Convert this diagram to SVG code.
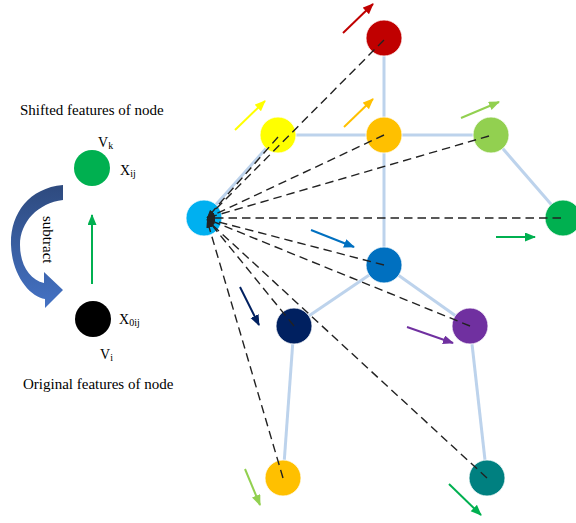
<svg xmlns="http://www.w3.org/2000/svg" width="576" height="523" viewBox="0 0 576 523">
<style>
  .t { font-family: "Liberation Serif", "Times New Roman", serif; fill: #000; }
  .edge { stroke: #BDD3EC; stroke-width: 3; fill: none; }
  .dash { stroke: #222; stroke-width: 1.4; stroke-dasharray: 8.5 5; fill: none; marker-end: url(#hk); }
  .mv { stroke-width: 2; fill: none; }
  .node { stroke: #fff; stroke-width: 0.8; }
</style>
<defs>
  <marker id="hk" markerUnits="userSpaceOnUse" markerWidth="9" markerHeight="7" refX="8" refY="3" orient="auto">
    <path d="M0,0 L8,3 L0,6 Z" fill="#222"/>
  </marker>
  <marker id="aRed" markerUnits="userSpaceOnUse" markerWidth="12" markerHeight="10" refX="10" refY="4.5" orient="auto"><path d="M0,0 L11,4.5 L0,9 Z" fill="#C00000"/></marker>
  <marker id="aYel" markerUnits="userSpaceOnUse" markerWidth="12" markerHeight="10" refX="10" refY="4.5" orient="auto"><path d="M0,0 L11,4.5 L0,9 Z" fill="#FFFF00"/></marker>
  <marker id="aOra" markerUnits="userSpaceOnUse" markerWidth="12" markerHeight="10" refX="10" refY="4.5" orient="auto"><path d="M0,0 L11,4.5 L0,9 Z" fill="#FFC000"/></marker>
  <marker id="aLgr" markerUnits="userSpaceOnUse" markerWidth="12" markerHeight="10" refX="10" refY="4.5" orient="auto"><path d="M0,0 L11,4.5 L0,9 Z" fill="#92D050"/></marker>
  <marker id="aGrn" markerUnits="userSpaceOnUse" markerWidth="12" markerHeight="10" refX="10" refY="4.5" orient="auto"><path d="M0,0 L11,4.5 L0,9 Z" fill="#00B050"/></marker>
  <marker id="aBlu" markerUnits="userSpaceOnUse" markerWidth="12" markerHeight="10" refX="10" refY="4.5" orient="auto"><path d="M0,0 L11,4.5 L0,9 Z" fill="#0070C0"/></marker>
  <marker id="aNav" markerUnits="userSpaceOnUse" markerWidth="12" markerHeight="10" refX="10" refY="4.5" orient="auto"><path d="M0,0 L11,4.5 L0,9 Z" fill="#002060"/></marker>
  <marker id="aPur" markerUnits="userSpaceOnUse" markerWidth="12" markerHeight="10" refX="10" refY="4.5" orient="auto"><path d="M0,0 L11,4.5 L0,9 Z" fill="#7030A0"/></marker>
  <linearGradient id="gSub" x1="0" y1="0" x2="0" y2="1">
    <stop offset="0" stop-color="#2E4A7E"/>
    <stop offset="1" stop-color="#4472C4"/>
  </linearGradient>
</defs>

<!-- left panel -->
<g id="legend">
  <text class="t" x="20" y="115" font-size="15">Shifted features of node</text>
  <text class="t" x="23" y="389" font-size="15">Original features of node</text>
  <path d="M63,185 C28,188 10,215 11,245 C12,275 30,297 45,299 L45,308 L63,290 L44,272 L44,283 C30,280 20,265 20,245 C20,222 38,203 63,200 Z" fill="url(#gSub)"/>
  <text class="t" font-size="15" transform="translate(43,216) rotate(90)">subtract</text>
  <line x1="92" y1="284" x2="92" y2="215" stroke="#00B050" stroke-width="2" marker-end="url(#aGrn)"/>
</g>
<g id="node-vk">
  <circle cx="92" cy="168" r="18" fill="#00B050"/>
  <text class="t" x="98" y="147" font-size="14">V<tspan font-size="10" dy="2">k</tspan></text>
  <text class="t" x="120" y="175" font-size="14">X<tspan font-size="10" dy="2">ij</tspan></text>
</g>
<g id="node-vi">
  <circle cx="93" cy="319" r="18" fill="#000"/>
  <text class="t" x="119" y="324" font-size="14">X<tspan font-size="10" dy="2">0ij</tspan></text>
  <text class="t" x="100" y="359" font-size="14">V<tspan font-size="10" dy="2">i</tspan></text>
</g>

<!-- skeleton edges -->
<g id="edges">
  <line class="edge" x1="384" y1="38" x2="384" y2="135"/>
  <line class="edge" x1="278" y1="135" x2="491" y2="135"/>
  <line class="edge" x1="491" y1="135" x2="563" y2="218"/>
  <line class="edge" x1="278" y1="135" x2="204" y2="218"/>
  <line class="edge" x1="384" y1="135" x2="384" y2="265"/>
  <line class="edge" x1="384" y1="265" x2="294" y2="326"/>
  <line class="edge" x1="384" y1="265" x2="470" y2="326"/>
  <line class="edge" x1="294" y1="326" x2="283" y2="478"/>
  <line class="edge" x1="470" y1="326" x2="487" y2="478"/>
</g>

<g id="n-red"><circle class="node" cx="384" cy="38" r="18" fill="#C00000"/></g>
<g id="n-yellow"><circle class="node" cx="278" cy="135" r="18" fill="#FFFF00"/></g>
<g id="n-orange"><circle class="node" cx="384" cy="135" r="18" fill="#FFC000"/></g>
<g id="n-lightgreen"><circle class="node" cx="491" cy="135" r="18" fill="#92D050"/></g>
<g id="n-green"><circle class="node" cx="563" cy="218" r="18" fill="#00B050"/></g>
<g id="n-cyan"><circle class="node" cx="204" cy="218" r="18" fill="#00B0F0"/></g>
<g id="n-blue"><circle class="node" cx="384" cy="265" r="18" fill="#0070C0"/></g>
<g id="n-navy"><circle class="node" cx="294" cy="326" r="18" fill="#002060"/></g>
<g id="n-purple"><circle class="node" cx="470" cy="326" r="18" fill="#7030A0"/></g>
<g id="n-orange2"><circle class="node" cx="283" cy="478" r="18" fill="#FFC000"/></g>
<g id="n-teal"><circle class="node" cx="487" cy="478" r="18" fill="#008080"/></g>

<!-- dashed connectors to the cyan node -->
<g id="connectors">
  <line class="dash" x1="384" y1="40" x2="207" y2="218"/>
  <line class="dash" x1="278" y1="137" x2="207" y2="218"/>
  <line class="dash" x1="384" y1="135" x2="207" y2="218"/>
  <line class="dash" x1="489" y1="136" x2="207" y2="218"/>
  <line class="dash" x1="561" y1="218" x2="207" y2="218"/>
  <line class="dash" x1="384" y1="265" x2="207" y2="219"/>
  <line class="dash" x1="294" y1="326" x2="207" y2="219"/>
  <line class="dash" x1="470" y1="326" x2="207" y2="219"/>
  <line class="dash" x1="283" y1="478" x2="207" y2="220"/>
  <line class="dash" x1="487" y1="478" x2="207" y2="220"/>
</g>

<!-- motion arrows -->
<g id="motion">
  <line class="mv" x1="343" y1="33" x2="373" y2="4" stroke="#C00000" marker-end="url(#aRed)"/>
  <line class="mv" x1="235" y1="130" x2="265" y2="101" stroke="#FFFF00" marker-end="url(#aYel)"/>
  <line class="mv" x1="344" y1="127" x2="373" y2="99" stroke="#FFC000" marker-end="url(#aOra)"/>
  <line class="mv" x1="461" y1="118" x2="499" y2="102" stroke="#92D050" marker-end="url(#aLgr)"/>
  <line class="mv" x1="496" y1="237" x2="535" y2="237" stroke="#00B050" marker-end="url(#aGrn)"/>
  <line class="mv" x1="311" y1="230" x2="354" y2="247" stroke="#0070C0" marker-end="url(#aBlu)"/>
  <line class="mv" x1="240" y1="287" x2="259" y2="325" stroke="#002060" marker-end="url(#aNav)"/>
  <line class="mv" x1="407" y1="327" x2="453" y2="343" stroke="#7030A0" marker-end="url(#aPur)"/>
  <line class="mv" x1="245" y1="469" x2="260" y2="505" stroke="#92D050" marker-end="url(#aLgr)"/>
  <line class="mv" x1="449" y1="484" x2="481" y2="515" stroke="#00B050" marker-end="url(#aGrn)"/>
</g>
</svg>
